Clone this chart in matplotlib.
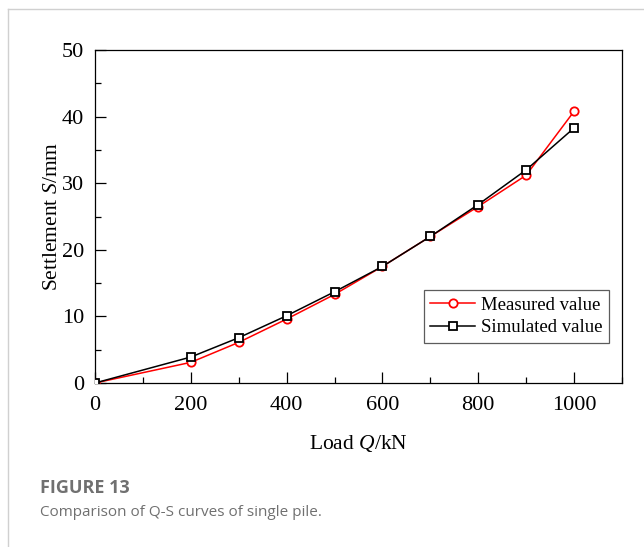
import matplotlib
matplotlib.use("Agg")
import matplotlib.pyplot as plt
from matplotlib.ticker import MultipleLocator
from matplotlib.lines import Line2D

plt.rcParams['font.family'] = ['Liberation Serif', 'DejaVu Serif']
plt.rcParams['mathtext.fontset'] = 'custom'
plt.rcParams['mathtext.rm'] = 'Liberation Serif'
plt.rcParams['mathtext.it'] = 'Liberation Serif:italic'

load = [0, 200, 300, 400, 500, 600, 700, 800, 900, 1000]
measured = [0, 3.1, 6.1, 9.6, 13.3, 17.5, 22.0, 26.5, 31.2, 40.8]
simulated = [0, 3.9, 6.8, 10.1, 13.7, 17.5, 22.0, 26.8, 32.0, 38.3]

fig = plt.figure(figsize=(6.44, 5.47), dpi=100)
W, H = 644.0, 547.0
ax = fig.add_axes([95 / W, 1 - 383 / H, (622 - 95) / W, (383 - 50) / H])

ax.plot(load, measured, color='red', lw=1.1, marker='o', ms=6,
        mfc='white', mec='red', mew=1.3, label='Measured value', zorder=3)
ax.plot(load, simulated, color='black', lw=1.1, marker='s', ms=5.5,
        mfc='white', mec='black', mew=1.3, label='Simulated value', zorder=3)

ax.set_xlim(0, 1100)
ax.set_ylim(0, 50)
ax.set_xticks([0, 200, 400, 600, 800, 1000])
ax.set_yticks([0, 10, 20, 30, 40, 50])
ax.xaxis.set_minor_locator(MultipleLocator(100))
ax.yaxis.set_minor_locator(MultipleLocator(5))
ax.tick_params(which='both', direction='in', labelsize=16, width=0.9)
ax.tick_params(which='major', length=8)
ax.tick_params(which='minor', length=4)
ax.tick_params(axis='x', pad=9)
ax.tick_params(axis='y', pad=8)
for s in ax.spines.values():
    s.set_linewidth(0.9)

ax.set_xlabel('Load $\\it{Q}$/kN', fontsize=15.5, labelpad=13)
ax.set_ylabel('Settlement $\\it{S}$/mm', fontsize=15.5, labelpad=0)

leg = ax.legend(loc='lower right', bbox_to_anchor=(0.975, 0.12), fontsize=13.5,
                frameon=True, fancybox=False, edgecolor='#333333',
                handlelength=2.4, handletextpad=0.3, borderpad=0.35,
                labelspacing=0.3, borderaxespad=0)
leg.get_frame().set_linewidth(0.9)

# card border
fig.add_artist(Line2D([8 / W, 1], [1 - 9 / H, 1 - 9 / H], color='#d0d0d0', lw=1))
fig.add_artist(Line2D([8 / W, 8 / W], [0, 1 - 9 / H], color='#d0d0d0', lw=1))

fig.text(40 / W, 1 - 488 / H, 'FIGURE 13', fontsize=13, fontweight='bold',
         color='#707070', family='Open Sans', va='center')
fig.text(40 / W, 1 - 512 / H, 'Comparison of Q-S curves of single pile.',
         fontsize=11, color='#707070', family='Open Sans', va='center')

fig.savefig('out.png', dpi=100)
